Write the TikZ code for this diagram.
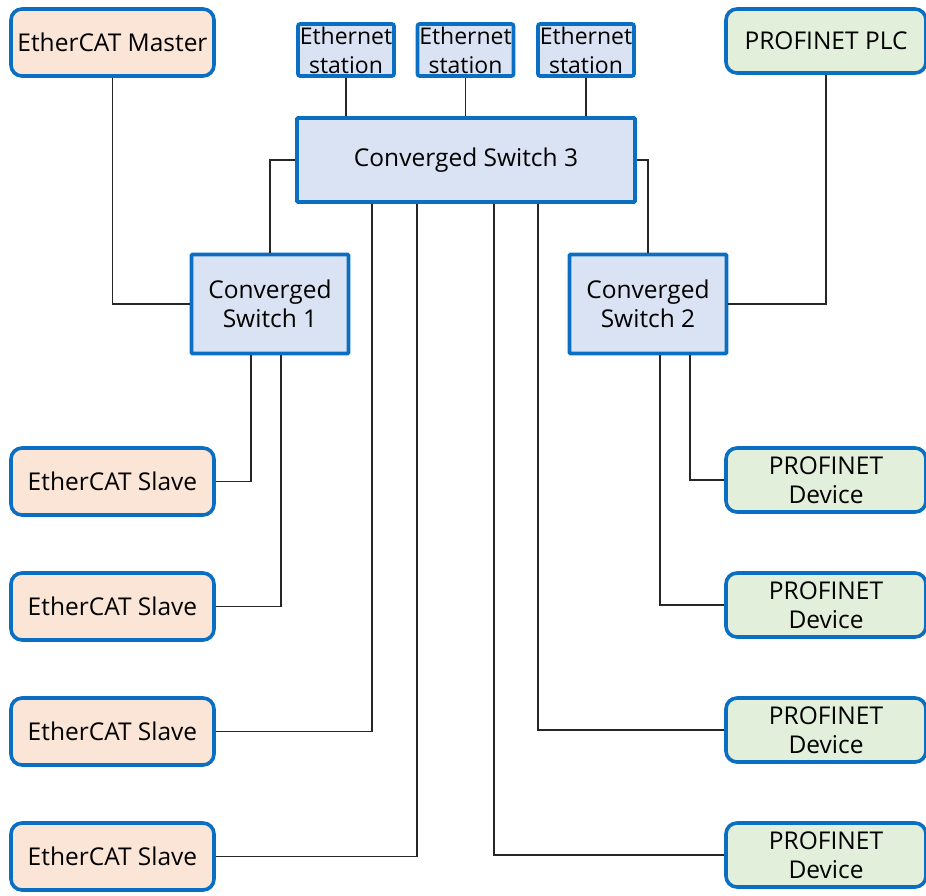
\documentclass[tikz,border=0pt]{standalone}
\usepackage{fontspec}
\setmainfont{Open Sans}
\definecolor{edgeblue}{HTML}{0A6FC2}
\definecolor{peach}{HTML}{FBE5D6}
\definecolor{mint}{HTML}{E2EFDA}
\definecolor{paleblue}{HTML}{DAE3F3}
\begin{document}
\begin{tikzpicture}[x=1pt,y=-1pt,
  every node/.style={inner sep=0pt, align=center,
    font=\fontsize{24.5}{29}\selectfont},
  unit/.style={draw=edgeblue, line width=3.6pt},
  ecat/.style={unit, fill=peach, rounded corners=11pt,
    minimum width=203pt, minimum height=67pt},
  pnet/.style={unit, fill=mint, rounded corners=11pt,
    minimum width=200pt, minimum height=64pt},
  station/.style={unit, fill=paleblue, rounded corners=2pt,
    minimum width=96pt, minimum height=52pt,
    font=\fontsize{23}{29}\selectfont},
  switchbox/.style={unit, fill=paleblue, rounded corners=1pt},
  link/.style={draw=black!85, line width=1.2pt}]
\useasboundingbox (0,0) rectangle (926,895);

% end points and switches
\node[ecat] (master) at (112.5,42.5) {EtherCAT Master};
\node[pnet] (plc) at (826,41) {PROFINET PLC};

\node[station] (st1) at (346,50) {Ethernet\\station};
\node[station] (st2) at (465.5,50) {Ethernet\\station};
\node[station] (st3) at (586,50) {Ethernet\\station};

\node[switchbox, minimum width=338pt, minimum height=84pt] (sw3) at (466,160) {Converged Switch 3};
\node[switchbox, minimum width=157pt, minimum height=99pt] (sw1) at (270,304) {Converged\\Switch 1};
\node[switchbox, minimum width=157pt, minimum height=99pt] (sw2) at (648,304) {Converged\\Switch 2};

\node[ecat] (sl1) at (112.5,481.5) {EtherCAT Slave};
\node[ecat] (sl2) at (112.5,606.5) {EtherCAT Slave};
\node[ecat] (sl3) at (112.5,731.5) {EtherCAT Slave};
\node[ecat] (sl4) at (112.5,856.5) {EtherCAT Slave};

\node[pnet] (dv1) at (826,480) {PROFINET\\Device};
\node[pnet] (dv2) at (826,605) {PROFINET\\Device};
\node[pnet] (dv3) at (826,730) {PROFINET\\Device};
\node[pnet] (dv4) at (826,855) {PROFINET\\Device};

% cabling between switches and end points
\path[link]
  (master.south) |- (sw1.west)
  (sw1.north) |- (sw3.west)
  (sw3.east) -| (sw2.north)
  (plc.south) |- (sw2.east)
  (st1.south) -- (st1.south |- sw3.north)
  (st2.south) -- (st2.south |- sw3.north)
  (st3.south) -- (st3.south |- sw3.north)
  (sw1.south -| 251,0) |- (sl1.east)
  (sw1.south -| 281,0) |- (sl2.east)
  (sw3.south -| 372,0) |- (sl3.east)
  (sw3.south -| 417,0) |- (sl4.east)
  (sw3.south -| 494,0) |- (dv4.west)
  (sw3.south -| 538,0) |- (dv3.west)
  (sw2.south -| 660,0) |- (dv2.west)
  (sw2.south -| 690,0) |- (dv1.west);
\end{tikzpicture}
\end{document}
